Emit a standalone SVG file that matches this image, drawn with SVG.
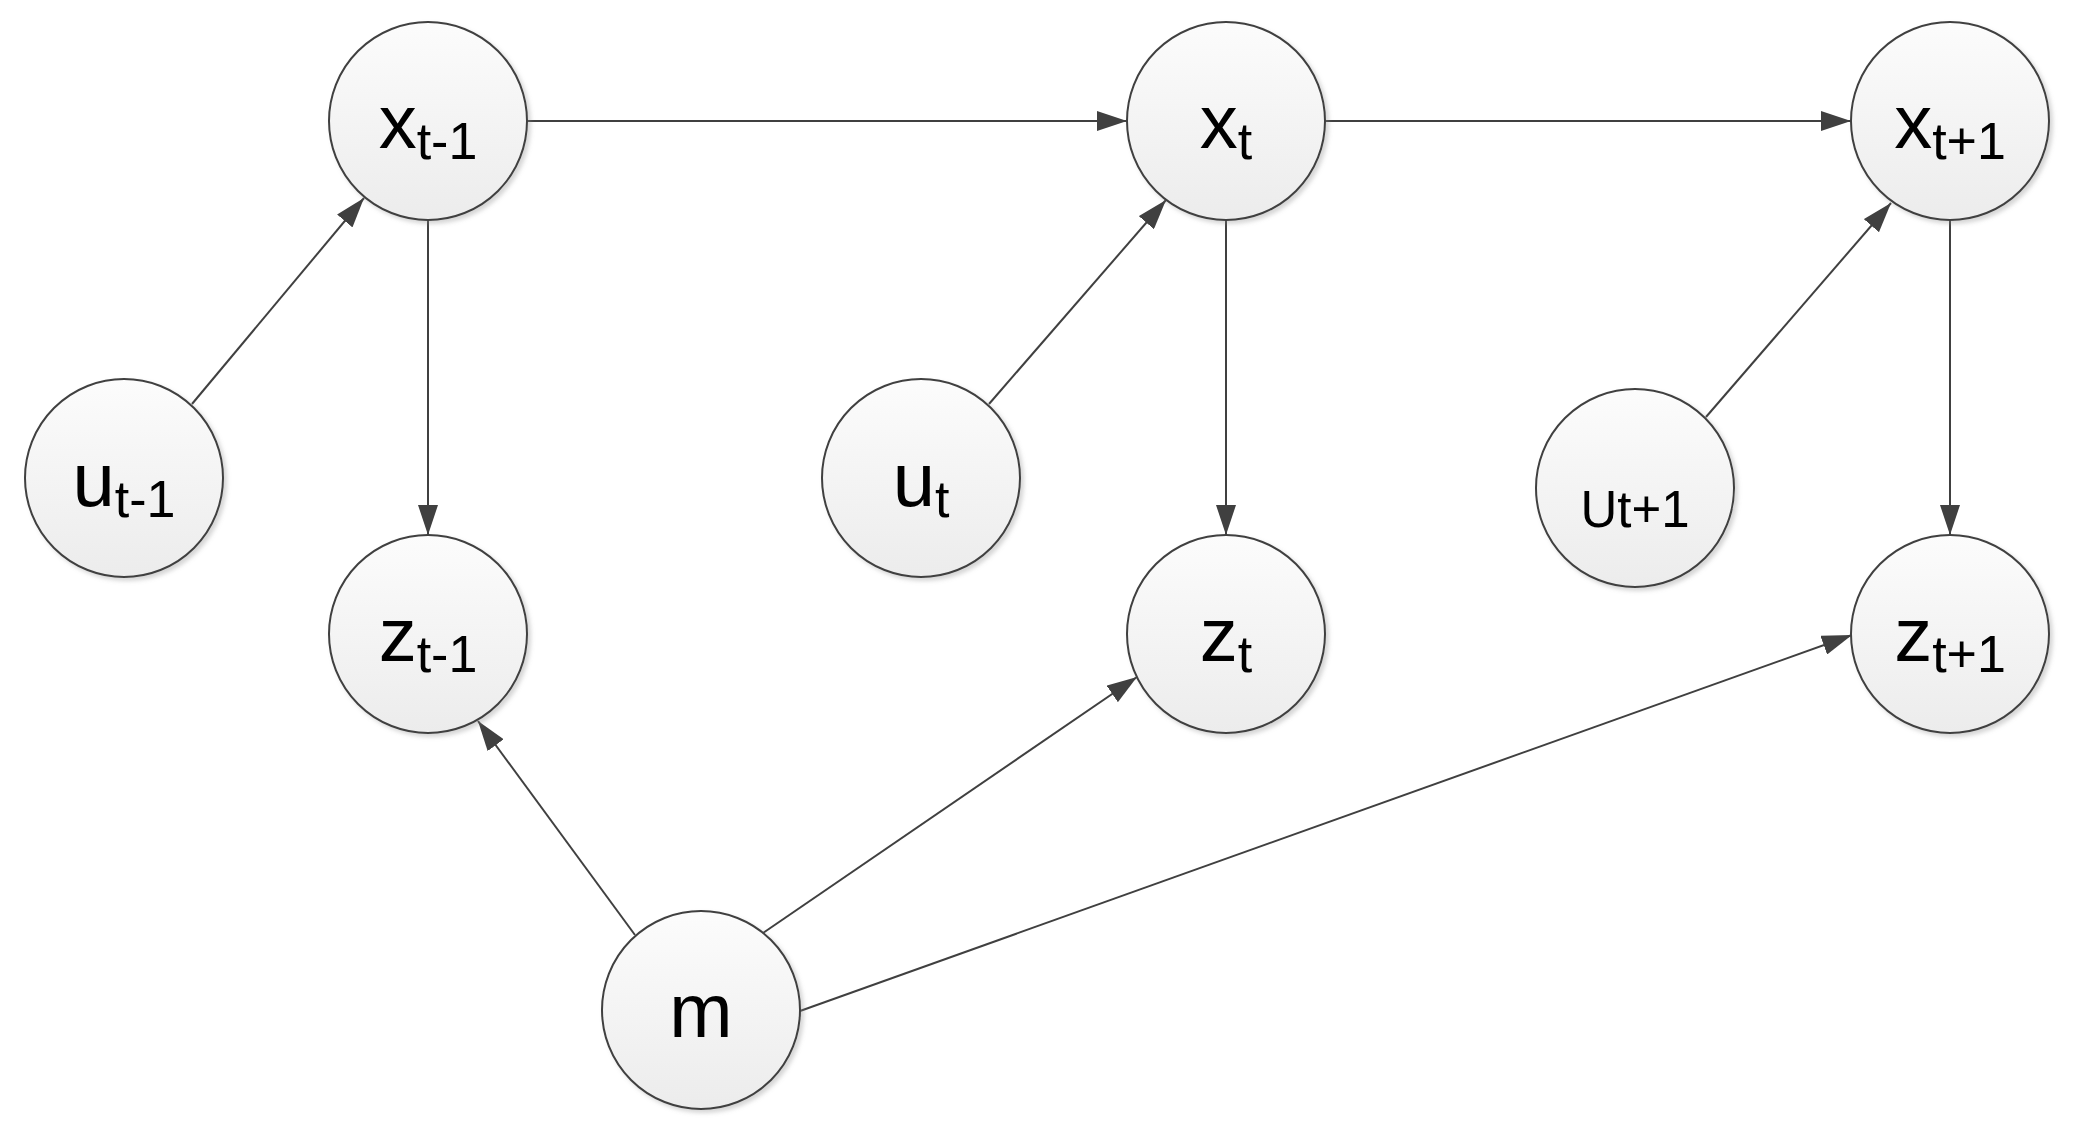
<svg xmlns="http://www.w3.org/2000/svg" width="2077" height="1131" viewBox="0 0 2077 1131">
<defs>
<linearGradient id="g" x1="0" y1="0" x2="0" y2="1">
<stop offset="0" stop-color="#fcfcfc"/>
<stop offset="1" stop-color="#ececec"/>
</linearGradient>
<filter id="sh" x="-20%" y="-20%" width="140%" height="140%">
<feDropShadow dx="3" dy="3" stdDeviation="2" flood-color="#888" flood-opacity="0.35"/>
</filter>
<marker id="arr" markerUnits="userSpaceOnUse" markerWidth="30" markerHeight="20" refX="30" refY="10" orient="auto">
<path d="M0,0 L30,10 L0,20 z" fill="#404040"/>
</marker>
</defs>
<style>
.n{fill:url(#g);stroke:#404040;stroke-width:2;filter:url(#sh)}
.e{stroke:#404040;stroke-width:2;fill:none;marker-end:url(#arr)}
.t{font-family:"Liberation Sans",Arial,sans-serif;fill:#000;text-anchor:middle;font-size:76px}
.s{font-size:52px}
.u{font-family:"Liberation Sans",Arial,sans-serif;fill:#000;text-anchor:middle;font-size:51px}
</style>
<rect width="2077" height="1131" fill="#fff"/>
<g id="connectors">
<line class="e" x1="527" y1="121" x2="1127" y2="121"/>
<line class="e" x1="1325" y1="121" x2="1851" y2="121"/>
<line class="e" x1="428" y1="220" x2="428" y2="535"/>
<line class="e" x1="1226" y1="220" x2="1226" y2="535"/>
<line class="e" x1="1950" y1="220" x2="1950" y2="535"/>
<line class="e" x1="192" y1="404" x2="364" y2="198"/>
<line class="e" x1="989" y1="404" x2="1166" y2="200"/>
<line class="e" x1="1706" y1="417" x2="1891" y2="203"/>
<line class="e" x1="635" y1="935" x2="478" y2="721"/>
<line class="e" x1="763" y1="933" x2="1137" y2="677"/>
<line class="e" x1="800" y1="1011" x2="1852" y2="635"/>
</g>
<g id="x_tm1"><circle class="n" cx="428" cy="121" r="99"/><text class="t" x="428" y="148">x<tspan class="s" dy="11">t-1</tspan></text></g>
<g id="x_t"><circle class="n" cx="1226" cy="121" r="99"/><text class="t" x="1226" y="148">x<tspan class="s" dy="11">t</tspan></text></g>
<g id="x_tp1"><circle class="n" cx="1950" cy="121" r="99"/><text class="t" x="1950" y="148">x<tspan class="s" dy="11">t+1</tspan></text></g>
<g id="u_tm1"><circle class="n" cx="124" cy="478" r="99"/><text class="t" x="124" y="506">u<tspan class="s" dy="11">t-1</tspan></text></g>
<g id="u_t"><circle class="n" cx="921" cy="478" r="99"/><text class="t" x="921" y="506">u<tspan class="s" dy="11">t</tspan></text></g>
<g id="u_tp1"><circle class="n" cx="1635" cy="488" r="99"/><text class="u" x="1635" y="527">Ut+1</text></g>
<g id="z_tm1"><circle class="n" cx="428" cy="634" r="99"/><text class="t" x="428" y="661">z<tspan class="s" dy="11">t-1</tspan></text></g>
<g id="z_t"><circle class="n" cx="1226" cy="634" r="99"/><text class="t" x="1226" y="661">z<tspan class="s" dy="11">t</tspan></text></g>
<g id="z_tp1"><circle class="n" cx="1950" cy="634" r="99"/><text class="t" x="1950" y="661">z<tspan class="s" dy="11">t+1</tspan></text></g>
<g id="m"><circle class="n" cx="701" cy="1010" r="99"/><text class="t" x="701" y="1037">m</text></g>
</svg>
